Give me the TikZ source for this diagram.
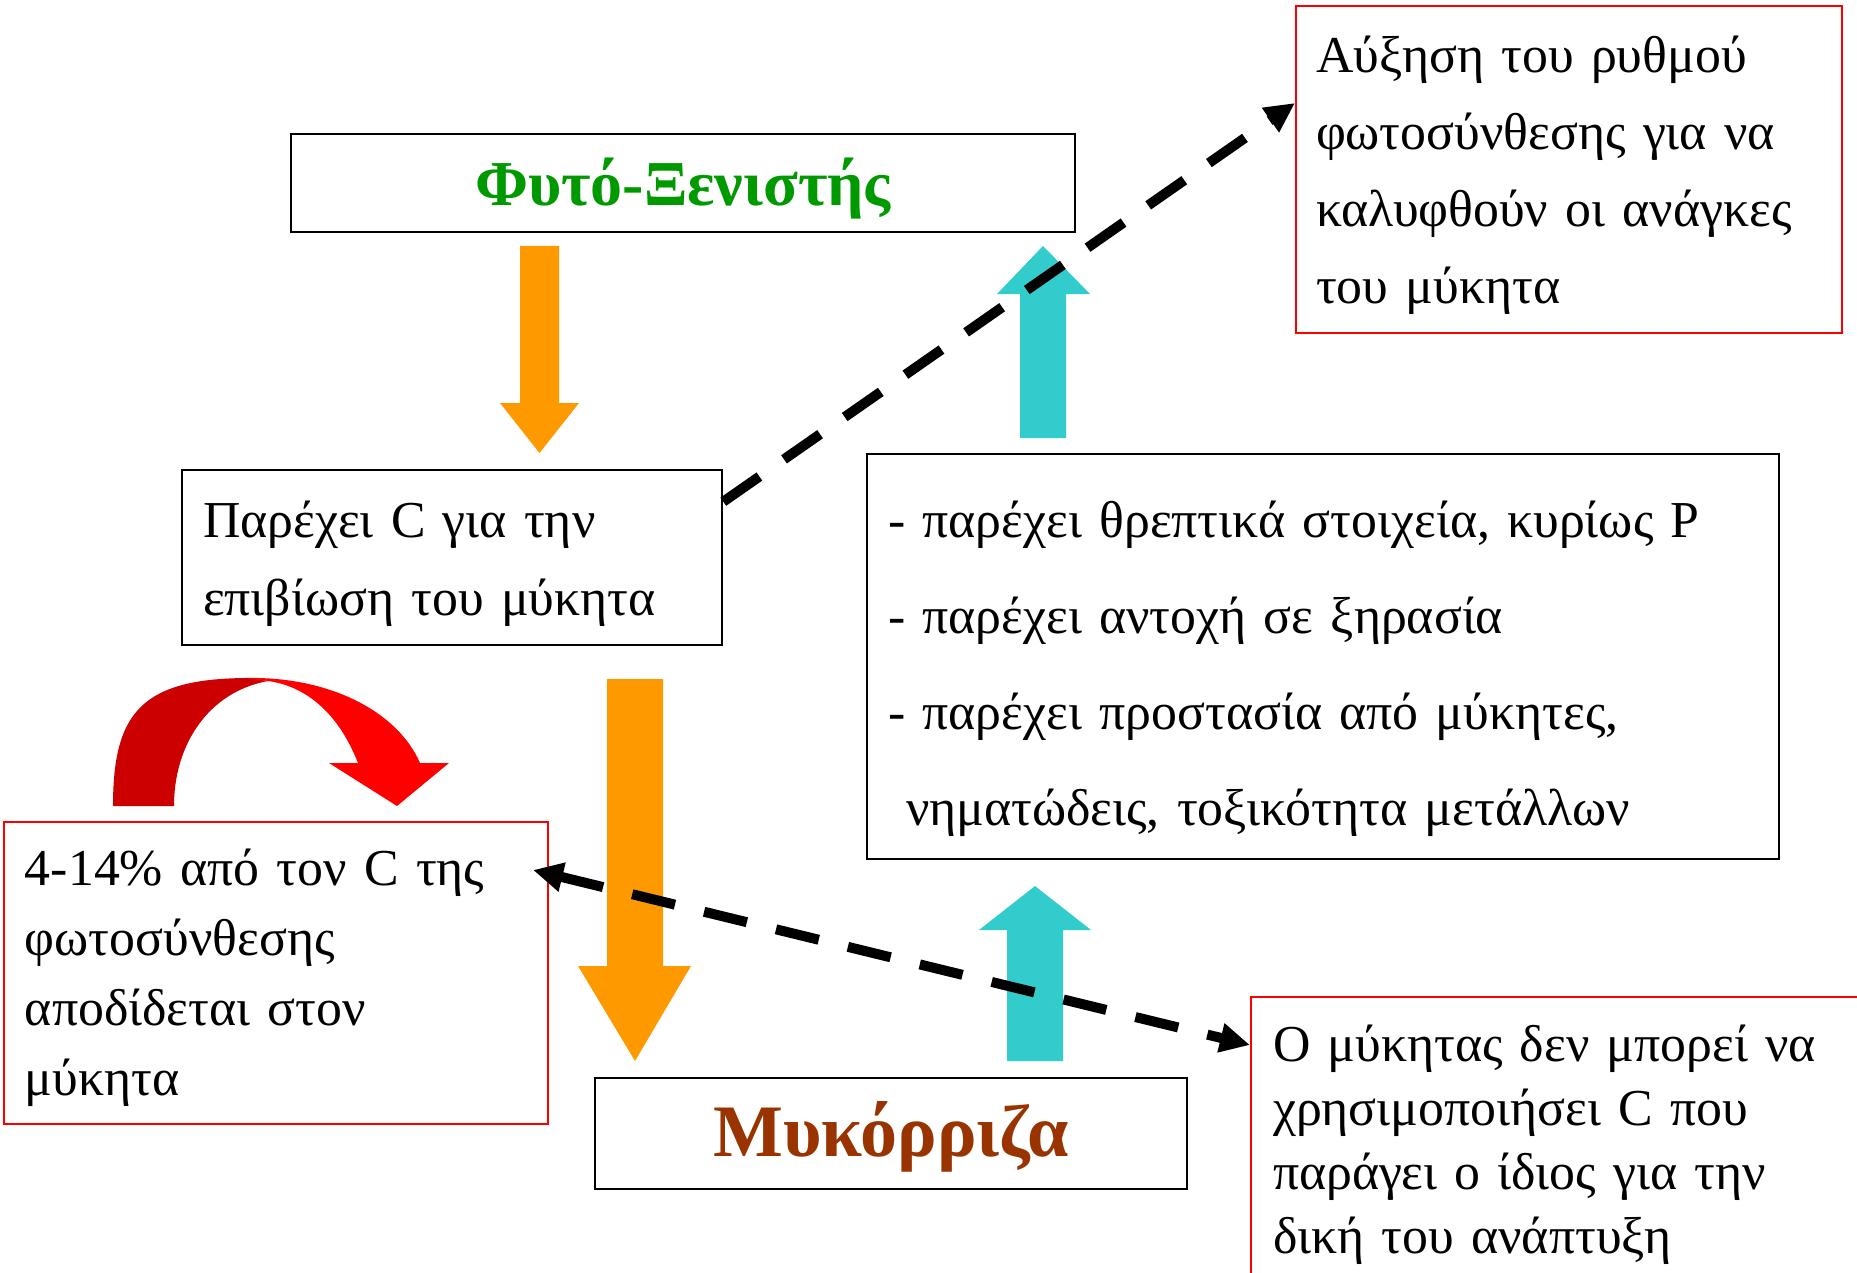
\documentclass[tikz,border=0pt]{standalone}
\usepackage{fontspec}
\setmainfont{Liberation Serif}
\usetikzlibrary{arrows.meta,calc}
\definecolor{orng}{HTML}{FF9900}
\definecolor{cyn}{HTML}{33CCCC}
\definecolor{grn}{HTML}{009900}
\definecolor{brn}{HTML}{993300}
\definecolor{dred}{HTML}{CC0000}
% lower a line by #1 without changing its box size
\newcommand\lowrline[2]{\raisebox{-#1}[\height][\depth]{#2}}
% make the first line taller by #1 (shifts a centred block down by #1/2)
\newcommand\tallfirst[2]{\raisebox{0pt}[\dimexpr\height+#1\relax][\depth]{#2}}
\begin{document}
\begin{tikzpicture}[x=0.5pt,y=-0.5pt,
  blackbox/.style={draw=black, line width=1.3pt, rectangle, inner ysep=0pt},
  redbox/.style={draw=red, line width=1pt, rectangle, inner ysep=0pt},
  dasharrow/.style={line width=5pt, dash pattern=on 22pt off 15pt},
  tipA/.style={-{Triangle[length=15pt,width=14pt]}},
  tipB/.style={{Triangle[length=15pt,width=14pt]}-{Triangle[length=15pt,width=14pt]}},
]
\useasboundingbox (0,0) rectangle (1857,1273);

% boxes
\node[blackbox, minimum width=392pt, minimum height=49pt, font=\fontsize{32}{38}\selectfont\bfseries, text=grn]
  (host) at (683,183) {\lowrline{3pt}{Φυτό-Ξενιστής}};
\node[blackbox, minimum width=270pt, minimum height=87.5pt, text width=249pt, inner xsep=10.5pt,
  align=left, font=\fontsize{25.9}{39}\selectfont]
  (provide) at (452,557.5) {\tallfirst{6pt}{Παρέχει C για την}\\επιβίωση του μύκητα};
\node[blackbox, minimum width=456pt, minimum height=202.5pt, text width=435pt, inner xsep=10.5pt,
  align=left, font=\fontsize{25.9}{48}\selectfont]
  (list) at (1323,656.5) {\tallfirst{12pt}{- παρέχει θρεπτικά στοιχεία, κυρίως P}\\- παρέχει αντοχή σε ξηρασία\\- παρέχει προστασία από μύκητες,\\\hspace*{9pt}νηματώδεις, τοξικότητα μετάλλων};
\node[redbox, minimum width=273pt, minimum height=163.5pt, text width=253pt, inner xsep=10pt,
  align=left, font=\fontsize{25.9}{38.5}\selectfont]
  (incr) at (1569,169.5) {\tallfirst{6pt}{Αύξηση του ρυθμού}\\φωτοσύνθεσης για να\\καλυφθούν οι ανάγκες\\του μύκητα};
\node[redbox, minimum width=272pt, minimum height=151pt, text width=251pt, inner xsep=10.5pt,
  align=left, font=\fontsize{25.9}{35}\selectfont]
  (pct) at (276,973) {\tallfirst{5pt}{4-14\% από τον C της}\\φωτοσύνθεσης\\αποδίδεται στον\\μύκητα};
\node[redbox, minimum width=314.5pt, minimum height=145pt, text width=292.5pt, inner xsep=11pt,
  align=left, font=\fontsize{25.9}{32}\selectfont]
  (cant) at (1565.5,1142) {\tallfirst{2.5pt}{Ο μύκητας δεν μπορεί να}\\χρησιμοποιήσει C που\\παράγει ο ίδιος για την\\δική του ανάπτυξη};
\node[blackbox, minimum width=296pt, minimum height=55.5pt, font=\fontsize{37}{44}\selectfont\bfseries, text=brn]
  (myk) at (891,1133.5) {\lowrline{1.8pt}{Μυκόρριζα}};

% block arrows
\fill[orng] (520,246) -- (559,246) -- (559,403) -- (579,403) -- (539.5,453) -- (500,403) -- (520,403) -- cycle;
\fill[orng] (607,679) -- (663,679) -- (663,966) -- (691,966) -- (635,1061) -- (578,966) -- (607,966) -- cycle;
\fill[cyn] (1020,438) -- (1066,438) -- (1066,294) -- (1090,294) -- (1043,246) -- (997,294) -- (1020,294) -- cycle;
\fill[cyn] (1007,1061) -- (1063,1061) -- (1063,930) -- (1091,930) -- (1035,886) -- (979,930) -- (1007,930) -- cycle;

% curved red arrow
\fill[dred] (113,806) .. controls (113,712) and (142,678) .. (250,678) -- (268,681)
  .. controls (208,692) and (174,745) .. (174,806) -- cycle;
\fill[red] (245,678) .. controls (330,676) and (398,712) .. (420,763) -- (449,763) -- (397,806)
  -- (329,763) -- (358,763) .. controls (338,712) and (305,686) .. (268,681) -- cycle;

% dashed connectors
\coordinate (d1s) at ($(provide.north east)+(0,33)$);
\coordinate (d1e) at ($(incr.west)+(0,-66.5)$);
\coordinate (d2s) at ($(pct.east)+(-16,-103)$);
\coordinate (d2e) at ($(cant.west)+(0,-97)$);
\draw[dasharrow, tipA] (d1s) -- (d1e);
\draw[dasharrow, tipB] (d2s) -- (d2e);
\end{tikzpicture}
\end{document}
